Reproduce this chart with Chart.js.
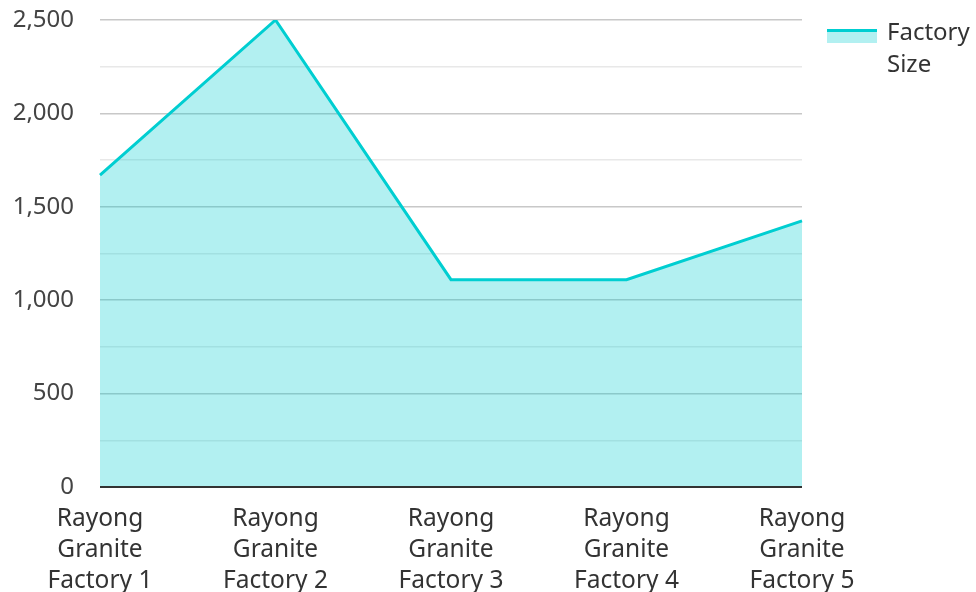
<!DOCTYPE html>
<html>
<head>
<meta charset="utf-8">
<script src="https://cdn.jsdelivr.net/npm/chart.js@4/dist/chart.umd.min.js"></script>
<style>
  html, body { margin: 0; padding: 0; background: #fff; }
  #wrap { position: relative; width: 976px; height: 592px; }
  #legend { position: absolute; left: 827px; top: 15px; font-family: "Noto Sans", sans-serif; font-size: 24px; color: #333; }
  #legend .sw { position: absolute; left: 0; top: 14px; width: 50px; height: 11px; border-top: 3px solid #00CED1; background: rgba(0,206,209,0.3); }
  #legend .tx { position: absolute; left: 60px; top: 0; width: 100px; line-height: 32px; }
</style>
</head>
<body>
<div id="wrap">
  <canvas id="c" width="976" height="592"></canvas>
  <div id="legend"><div class="sw"></div><div class="tx" id="legendText"></div></div>
</div>
<script>
const categories = [
  ["Rayong", "Granite", "Factory 1"],
  ["Rayong", "Granite", "Factory 2"],
  ["Rayong", "Granite", "Factory 3"],
  ["Rayong", "Granite", "Factory 4"],
  ["Rayong", "Granite", "Factory 5"]
];
const seriesName = "Factory Size";
const factorySize = [1670, 2500, 1110, 1110, 1425];
const yTickStep = 250;
const yLabelStep = 500;

document.getElementById('legendText').textContent = seriesName;

const FONT = '"Noto Sans", sans-serif';
new Chart(document.getElementById('c'), {
  type: 'line',
  data: {
    labels: categories,
    datasets: [{
      label: seriesName,
      data: factorySize,
      borderColor: '#00CED1',
      backgroundColor: 'rgba(0,206,209,0.3)',
      borderWidth: 3,
      fill: 'origin',
      pointRadius: 0,
      pointHoverRadius: 0,
      tension: 0
    }]
  },
  options: {
    responsive: false,
    animation: false,
    layout: { padding: { top: 20, right: 174, left: 12, bottom: 0 } },
    plugins: { legend: { display: false }, tooltip: { enabled: false } },
    scales: {
      x: {
        offset: false,
        grid: { display: false, drawTicks: false },
        border: { display: false },
        afterFit(axis) { axis.height = 105; axis.paddingLeft = 0; axis.paddingRight = 0; },
        ticks: {
          color: '#333',
          font: { family: FONT, size: 24.5, lineHeight: 1.27 },
          maxRotation: 0,
          autoSkip: false,
          padding: 16
        }
      },
      y: {
        min: 0,
        max: 2500,
        afterFit(axis) { axis.width = 88; axis.paddingTop = 0; axis.paddingBottom = 0; },
        grid: {
          drawTicks: false,
          color: ctx => (ctx.tick && ctx.tick.value % yLabelStep === 0) ? '#c8c8c8' : '#e8e8e8',
          lineWidth: 1.5
        },
        border: { display: false },
        ticks: {
          stepSize: yTickStep,
          color: '#444',
          font: { family: FONT, size: 24 },
          padding: 26,
          callback: v => (v % yLabelStep === 0) ? v.toLocaleString('en-US') : ''
        }
      }
    }
  },
  plugins: [{
    id: 'baseline',
    afterDatasetsDraw(chart) {
      const { ctx, chartArea, scales } = chart;
      const y = scales.y.getPixelForValue(0);
      ctx.save();
      ctx.strokeStyle = '#333';
      ctx.lineWidth = 2;
      ctx.beginPath();
      ctx.moveTo(chartArea.left, y);
      ctx.lineTo(chartArea.right, y);
      ctx.stroke();
      ctx.restore();
    }
  }]
});
</script>
</body>
</html>
